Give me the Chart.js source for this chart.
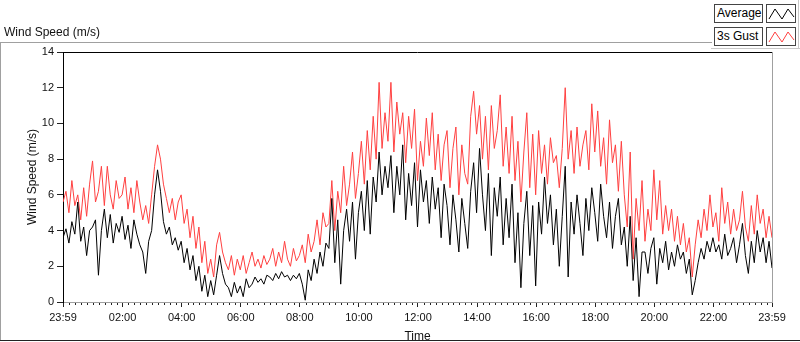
<!DOCTYPE html>
<html>
<head>
<meta charset="utf-8">
<script src="https://cdn.jsdelivr.net/npm/chart.js@4.4.1/dist/chart.umd.min.js"></script>
<style>
  body { margin: 0; background: #fff; font-family: "Liberation Sans", Arial, sans-serif; }
  #wrap { position: relative; width: 800px; height: 342px; overflow: hidden; }
  #chart { position: absolute; left: 0; top: 0; }
  .ln { position: absolute; }
  .lbl { position: absolute; font-size: 12px; color: #111; white-space: nowrap; }
  .box { position: absolute; border: 1px solid #444; background: #fff; font-size: 12px; color: #000; line-height: 16px; padding-left: 2px; box-sizing: border-box; }
</style>
</head>
<body>
<div id="wrap">
  <canvas id="chart" width="800" height="342"></canvas>
  <!-- painel -->
  <div class="ln" style="left:0;top:42px;width:712px;height:1px;background:#a0a0a0"></div>
  <div class="ln" style="left:0;top:42px;width:1px;height:298px;background:#a0a0a0"></div>
  <div class="ln" style="left:0;top:340px;width:800px;height:1px;background:#222"></div>
  <div class="ln" style="left:711px;top:48px;width:89px;height:1px;background:#c8c8c8"></div>
  <div class="ln" style="left:798px;top:0;width:1px;height:48px;background:#c8c8c8"></div>
  <div class="lbl" style="left:4px;top:25px">Wind Speed (m/s)</div>
  <!-- legenda -->
  <div class="box" style="left:714px;top:4px;width:49px;height:19px">Average</div>
  <div class="box" style="left:766px;top:4px;width:30px;height:19px;padding:0">
    <svg width="28" height="17"><polyline points="2,14 8,4 15,14 21,4 27,12" fill="none" stroke="#000" stroke-width="1"/></svg>
  </div>
  <div class="box" style="left:714px;top:27px;width:49px;height:19px">3s Gust</div>
  <div class="box" style="left:766px;top:27px;width:30px;height:19px;padding:0">
    <svg width="28" height="17"><polyline points="2,14 8,4 15,14 21,4 27,12" fill="none" stroke="#ff4040" stroke-width="1"/></svg>
  </div>
</div>
<script>
// minutos desde 23:59, uma amostra a cada 6 min
const stepMinutes = 6;

// velocidade media (m/s), 10 amostras por hora
const averageSpeed = [
  3.6, 4.1, 3.3, 4.5, 3.8, 5.6, 3.4, 4.2, 2.6, 4.0,
  4.2, 4.6, 1.5, 4.0, 5.2, 3.6, 4.9, 3.3, 4.4, 3.9,
  4.8, 3.5, 4.3, 3.0, 4.6, 3.8, 3.2, 2.8, 1.6, 3.4,
  4.0, 6.0, 7.4, 6.2, 4.5, 3.8, 4.2, 3.2, 3.6, 2.9,
  3.4, 2.2, 3.0, 1.8, 2.6, 1.2, 2.0, 0.6, 1.5, 0.3,
  1.2, 0.4, 1.5, 2.6, 1.6, 1.0, 0.8, 0.3, 1.1, 0.5,
  0.9, 0.3, 1.3, 0.8, 1.0, 1.4, 1.1, 1.3, 1.0, 1.5,
  1.4, 1.2, 1.6, 1.3, 1.7, 1.4, 1.5, 1.2, 1.5, 1.3,
  1.6, 1.0, 0.1, 1.8, 1.2, 2.4, 1.6, 2.8, 2.0, 3.3,
  3.0, 5.8, 2.2, 4.6, 1.0, 4.0, 5.2, 3.4, 5.6, 2.4,
  5.0, 6.2, 4.0, 6.8, 3.8, 7.0, 5.6, 8.4, 6.0, 7.6,
  6.4, 8.2, 5.0, 7.6, 6.0, 8.8, 4.6, 7.2, 5.4, 7.8,
  4.2, 7.4, 5.6, 6.8, 4.4, 7.0, 5.2, 6.4, 3.6, 6.6,
  5.4, 3.2, 6.0, 4.6, 2.8, 5.8, 4.4, 3.0, 6.2, 7.8,
  5.0, 8.6, 6.0, 4.0, 7.2, 2.6, 6.4, 4.8, 7.0, 3.2,
  5.8, 3.6, 6.6, 2.2, 5.0, 0.8, 4.4, 6.2, 2.6, 5.4,
  0.9, 5.6, 3.8, 7.0, 4.4, 6.0, 3.2, 5.2, 2.0, 4.8,
  7.6, 1.4, 5.6, 3.8, 6.0, 4.4, 2.6, 5.8, 4.0, 6.4,
  5.0, 3.4, 6.6, 4.8, 3.6, 5.6, 3.0, 4.8, 5.8, 3.2,
  4.2, 2.0, 4.8, 1.2, 3.6, 0.3, 2.8, 2.8, 1.6, 3.0,
  3.6, 1.0, 3.0, 2.2, 3.4, 1.8, 2.8, 2.0, 3.2, 2.4,
  2.8, 1.6, 2.4, 0.4, 1.2, 2.2, 3.0, 2.4, 3.4, 2.8,
  3.6, 2.8, 3.2, 2.4, 3.8, 2.6, 3.0, 3.6, 2.2, 3.2,
  4.4, 2.6, 1.6, 3.4, 2.2, 4.0, 2.8, 3.6, 2.2, 3.4,
  1.9
];

// rajada de 3s (m/s)
const gustSpeed = [
  5.6, 6.2, 5.0, 6.8, 5.4, 6.0, 4.6, 6.4, 4.8, 6.6,
  7.9, 5.6, 6.2, 7.6, 5.4, 7.6, 6.0, 5.2, 6.8, 5.8,
  6.0, 7.0, 5.2, 6.4, 5.0, 6.8, 5.6, 4.6, 5.4, 4.4,
  6.0, 7.6, 8.8, 8.0, 6.6, 5.8, 5.0, 5.8, 4.6, 5.6,
  6.0, 4.4, 5.2, 3.6, 4.8, 3.0, 4.2, 2.2, 3.4, 1.6,
  2.4, 1.4, 3.2, 3.9, 2.8, 2.2, 1.8, 2.6, 1.5, 2.4,
  1.8, 2.6, 1.6, 2.2, 2.8, 2.0, 2.4, 1.9, 2.6, 2.1,
  2.4, 3.0, 2.0, 2.8, 2.2, 3.4, 2.4, 2.0, 3.0, 2.3,
  2.6, 3.2, 2.2, 3.8, 2.8, 3.4, 4.6, 3.2, 5.0, 4.2,
  4.4, 6.8, 4.0, 6.2, 5.0, 7.6, 5.4, 6.6, 8.4, 5.8,
  7.2, 9.0, 6.6, 9.6, 7.4, 10.4, 8.0, 12.3, 8.6, 10.6,
  9.0, 12.3, 8.4, 11.2, 9.4, 10.6, 7.8, 10.4, 8.6, 10.8,
  6.8, 9.0, 7.6, 10.3, 8.2, 10.6, 7.4, 9.4, 6.8, 8.8,
  9.6, 6.4, 8.6, 9.8, 6.0, 8.8, 7.2, 6.6, 10.4, 11.8,
  9.4, 11.0, 8.0, 10.4, 7.4, 11.0, 8.6, 9.6, 11.6, 7.6,
  9.8, 7.2, 10.4, 6.8, 9.0, 5.6, 8.4, 10.6, 6.4, 9.4,
  6.0, 9.6, 7.2, 8.8, 6.6, 9.2, 7.8, 8.2, 6.4, 8.6,
  12.0, 8.0, 9.6, 7.2, 9.8, 7.6, 8.8, 9.6, 7.4, 11.1,
  8.4, 10.7, 7.6, 9.2, 6.6, 10.2, 7.8, 8.8, 6.2, 9.0,
  6.0, 4.2, 8.4, 2.4, 5.8, 4.0, 6.8, 3.4, 5.2, 4.0,
  7.4, 4.6, 6.8, 3.8, 5.4, 4.0, 5.2, 3.4, 4.8, 3.2,
  4.4, 2.8, 3.6, 1.4, 3.2, 4.6, 3.6, 5.2, 4.0, 6.0,
  4.2, 5.0, 3.4, 6.4, 4.4, 5.6, 3.8, 5.2, 4.0, 4.6,
  6.2, 4.2, 3.4, 5.4, 3.8, 6.0, 4.4, 5.2, 3.6, 4.8,
  3.6
];

// eixo do tempo
const majorTickMinutes = [0, 121, 241, 361, 481, 601, 721, 841, 961, 1081, 1201, 1321, 1440];
const majorTickLabels = ["23:59", "02:00", "04:00", "06:00", "08:00", "10:00", "12:00", "14:00", "16:00", "18:00", "20:00", "22:00", "23:59"];
const yTicks = [0, 2, 4, 6, 8, 10, 12, 14];

function toPoints(values){
  return values.map((v, i) => ({x: i * stepMinutes, y: v}));
}

// bordas do grafico e ticks menores do eixo x
const frame = {
  id: 'frame',
  afterDraw(chart){
    let ctx = chart.ctx;
    let a = chart.chartArea;
    let xs = chart.scales.x;
    ctx.save();
    ctx.lineWidth = 1;
    ctx.strokeStyle = '#000';
    ctx.beginPath();
    ctx.moveTo(a.left, a.top + 0.5);
    ctx.lineTo(a.right, a.top + 0.5);
    ctx.stroke();
    ctx.strokeStyle = '#a0a0a0';
    ctx.beginPath();
    ctx.moveTo(a.right + 0.5, a.top);
    ctx.lineTo(a.right + 0.5, a.bottom);
    ctx.stroke();
    ctx.strokeStyle = '#222';
    ctx.beginPath();
    for (let m = 13; m < 1440; m += 12){
      if (majorTickMinutes.indexOf(m) >= 0) continue;
      let px = Math.round(xs.getPixelForValue(m)) + 0.5;
      ctx.moveTo(px, a.bottom + 1);
      ctx.lineTo(px, a.bottom + 3);
    }
    ctx.stroke();
    ctx.restore();
  }
};

let ctx = document.getElementById("chart").getContext("2d");
let windChart = new Chart(ctx, {
  type: 'line',
  data: {
    datasets: [
      {label: 'Average', data: toPoints(averageSpeed), borderColor: '#000', borderWidth: 1, pointRadius: 0, tension: 0, order: 0},
      {label: '3s Gust', data: toPoints(gustSpeed), borderColor: '#ff4040', borderWidth: 1, pointRadius: 0, tension: 0, order: 1}
    ]
  },
  options: {
    responsive: false,
    animation: false,
    events: [],
    layout: {padding: {top: 52, right: 28, left: 0, bottom: 0}},
    plugins: {legend: {display: false}, tooltip: {enabled: false}},
    scales: {
      x: {
        type: 'linear',
        min: 0, max: 1440,
        afterBuildTicks: s => { s.ticks = majorTickMinutes.map(v => ({value: v})); },
        afterFit: s => { s.height = 40; },
        ticks: {
          autoSkip: false, maxRotation: 0, padding: 4,
          color: '#111', font: {family: 'Liberation Sans', size: 11},
          callback: (v, i) => majorTickLabels[i]
        },
        grid: {display: true, drawOnChartArea: false, drawTicks: true, tickLength: 5, color: '#222'},
        border: {display: true, color: '#a0a0a0'},
        title: {display: true, text: 'Time', color: '#111', font: {family: 'Liberation Sans', size: 12}, padding: {top: 0, bottom: -2}}
      },
      y: {
        min: 0, max: 14,
        afterBuildTicks: s => { s.ticks = yTicks.map(v => ({value: v})); },
        afterFit: s => { s.width = 63; },
        ticks: {color: '#111', padding: 3, font: {family: 'Liberation Sans', size: 11}},
        grid: {display: true, drawOnChartArea: false, drawTicks: true, tickLength: 6, color: '#222'},
        border: {display: true, color: '#000'},
        title: {display: true, text: 'Wind Speed (m/s)', color: '#111', font: {family: 'Liberation Sans', size: 12}, padding: {top: 25, bottom: 4}}
      }
    }
  },
  plugins: [frame]
});
</script>
</body>
</html>
